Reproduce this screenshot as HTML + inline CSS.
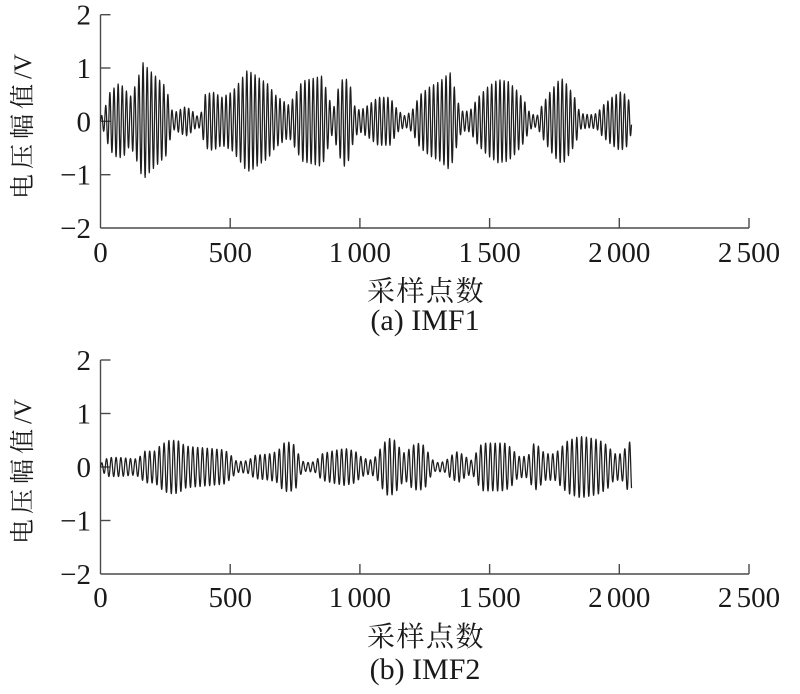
<!DOCTYPE html>
<html>
<head>
<meta charset="utf-8">
<style>
html,body{margin:0;padding:0;background:#fff;}
svg{display:block;}
text{fill:#1a1a1a;}
</style>
</head>
<body>
<svg id="chart" width="800" height="694" viewBox="0 0 800 694" xmlns="http://www.w3.org/2000/svg" font-family="'Liberation Serif','Noto Serif CJK SC',serif">
  <rect width="800" height="694" fill="#fff"/>

  <!-- ============ TOP PLOT (a) ============ -->
  <g stroke="#4a4a4a" stroke-width="1.4" fill="none">
    <line x1="100.5" y1="14.7" x2="100.5" y2="228"/>
    <line x1="100.5" y1="228" x2="749" y2="228"/>
    <line x1="100.5" y1="14.7" x2="110.5" y2="14.7"/>
    <line x1="100.5" y1="68" x2="110.5" y2="68"/>
    <line x1="100.5" y1="121.3" x2="110.5" y2="121.3"/>
    <line x1="100.5" y1="174.7" x2="110.5" y2="174.7"/>
    <line x1="230.2" y1="228" x2="230.2" y2="218"/>
    <line x1="359.9" y1="228" x2="359.9" y2="218"/>
    <line x1="489.6" y1="228" x2="489.6" y2="218"/>
    <line x1="619.3" y1="228" x2="619.3" y2="218"/>
    <line x1="749" y1="228" x2="749" y2="218"/>
  </g>
  <path id="sig1" d="" stroke="#1e1e1e" stroke-width="1.25" fill="none" stroke-linejoin="round"/>
  <g font-size="29" text-anchor="end">
    <text x="91" y="24.7">2</text>
    <text x="91" y="78">1</text>
    <text x="91" y="131.3">0</text>
    <text x="91" y="184.7">−1</text>
    <text x="91" y="238">−2</text>
  </g>
  <g font-size="29" text-anchor="middle" style="word-spacing:-3px">
    <text x="100.5" y="262">0</text>
    <text x="230.2" y="262">500</text>
    <text x="359.9" y="262">1 000</text>
    <text x="489.6" y="262">1 500</text>
    <text x="619.3" y="262">2 000</text>
    <text x="749" y="262">2 500</text>
  </g>
  <text x="426" y="300.5" font-size="28" text-anchor="middle" style="letter-spacing:1.5px">采样点数</text>
  <text x="425" y="330" font-size="30" text-anchor="middle">(a) IMF1</text>
  <text transform="translate(31,199) rotate(-90)" font-size="25"><tspan style="letter-spacing:5px">电压幅值</tspan><tspan style="letter-spacing:0px">/V</tspan></text>

  <!-- ============ BOTTOM PLOT (b) ============ -->
  <g stroke="#4a4a4a" stroke-width="1.4" fill="none">
    <line x1="100.5" y1="360" x2="100.5" y2="574"/>
    <line x1="100.5" y1="574" x2="749" y2="574"/>
    <line x1="100.5" y1="360" x2="110.5" y2="360"/>
    <line x1="100.5" y1="413.5" x2="110.5" y2="413.5"/>
    <line x1="100.5" y1="467" x2="110.5" y2="467"/>
    <line x1="100.5" y1="520.5" x2="110.5" y2="520.5"/>
    <line x1="230.2" y1="574" x2="230.2" y2="564"/>
    <line x1="359.9" y1="574" x2="359.9" y2="564"/>
    <line x1="489.6" y1="574" x2="489.6" y2="564"/>
    <line x1="619.3" y1="574" x2="619.3" y2="564"/>
    <line x1="749" y1="574" x2="749" y2="564"/>
  </g>
  <path id="sig2" d="" stroke="#1e1e1e" stroke-width="1.25" fill="none" stroke-linejoin="round"/>
  <g font-size="29" text-anchor="end">
    <text x="91" y="370">2</text>
    <text x="91" y="423.5">1</text>
    <text x="91" y="477">0</text>
    <text x="91" y="530.5">−1</text>
    <text x="91" y="584">−2</text>
  </g>
  <g font-size="29" text-anchor="middle" style="word-spacing:-3px">
    <text x="100.5" y="607">0</text>
    <text x="230.2" y="607">500</text>
    <text x="359.9" y="607">1 000</text>
    <text x="489.6" y="607">1 500</text>
    <text x="619.3" y="607">2 000</text>
    <text x="749" y="607">2 500</text>
  </g>
  <text x="426" y="646" font-size="28" text-anchor="middle" style="letter-spacing:1.5px">采样点数</text>
  <text x="425" y="679" font-size="30" text-anchor="middle">(b) IMF2</text>
  <text transform="translate(31,544) rotate(-90)" font-size="25"><tspan style="letter-spacing:5px">电压幅值</tspan><tspan style="letter-spacing:0px">/V</tspan></text>
</svg>

<script>
(function(){
  var env1=[[100,0.05],[104,0.2],[110,0.55],[118,0.7],[124,0.65],[130,0.45],[136,0.7],[143,1.1],[150,0.95],[158,0.8],[166,0.65],[170,0.35],[173,0.15],[178,0.2],[186,0.28],[192,0.2],[197,0.1],[201,0.15],[205,0.5],[213,0.55],[222,0.45],[232,0.55],[240,0.75],[247,0.95],[253,0.9],[260,0.8],[268,0.7],[275,0.5],[282,0.4],[289,0.3],[295,0.5],[302,0.75],[312,0.8],[322,0.85],[328,0.5],[333,0.2],[338,0.6],[344,0.85],[350,0.7],[354,0.3],[360,0.2],[368,0.3],[378,0.45],[390,0.45],[398,0.2],[405,0.1],[412,0.2],[420,0.5],[430,0.65],[440,0.75],[450,0.92],[455,0.6],[459,0.3],[463,0.18],[470,0.2],[478,0.45],[488,0.65],[498,0.78],[508,0.75],[516,0.6],[524,0.4],[530,0.15],[537,0.1],[542,0.3],[550,0.55],[558,0.75],[563,0.8],[570,0.6],[576,0.4],[580,0.15],[590,0.12],[597,0.15],[603,0.3],[612,0.45],[620,0.55],[626,0.5],[630,0.35],[632,0.1]];
  var env2=[[100,0.05],[103,0.1],[108,0.18],[120,0.18],[135,0.15],[140,0.2],[145,0.3],[155,0.3],[160,0.4],[168,0.5],[178,0.5],[185,0.4],[192,0.38],[210,0.35],[225,0.32],[232,0.2],[237,0.1],[248,0.12],[255,0.22],[270,0.25],[278,0.3],[283,0.45],[290,0.47],[296,0.4],[300,0.15],[305,0.08],[315,0.1],[322,0.25],[332,0.3],[345,0.35],[355,0.3],[362,0.18],[370,0.13],[376,0.2],[382,0.4],[388,0.55],[395,0.5],[400,0.35],[405,0.25],[412,0.4],[418,0.45],[425,0.4],[430,0.2],[435,0.08],[445,0.1],[450,0.2],[458,0.3],[465,0.2],[472,0.12],[477,0.3],[482,0.45],[495,0.45],[505,0.45],[512,0.35],[518,0.2],[528,0.2],[534,0.45],[538,0.4],[545,0.25],[555,0.25],[560,0.35],[568,0.5],[580,0.58],[590,0.55],[600,0.5],[608,0.4],[614,0.25],[622,0.25],[628,0.45],[632,0.5]];
  function interp(arr,x){
    if(x<=arr[0][0]) return arr[0][1];
    for(var i=1;i<arr.length;i++){
      if(x<=arr[i][0]){
        var a=arr[i-1],b=arr[i];
        var t=(x-a[0])/(b[0]-a[0]);
        return a[1]+(b[1]-a[1])*t;
      }
    }
    return arr[arr.length-1][1];
  }
  function build(env,y0,period,ph0){
    var d=[];
    var N=2048, step=0.2594;
    for(var n=0;n<N;n++){
      var px=100.5+n*step;
      var a=interp(env,px);
      var v=a*Math.sin(2*Math.PI*n/period+ph0);
      var py=y0-v*53.3;
      d.push((n===0?'M':'L')+px.toFixed(2)+' '+py.toFixed(2));
    }
    return d.join(' ');
  }
  document.getElementById('sig1').setAttribute('d',build(env1,121.3,16,0));
  document.getElementById('sig2').setAttribute('d',build(env2,467,18.5,0));
})();
</script>
</body>
</html>
